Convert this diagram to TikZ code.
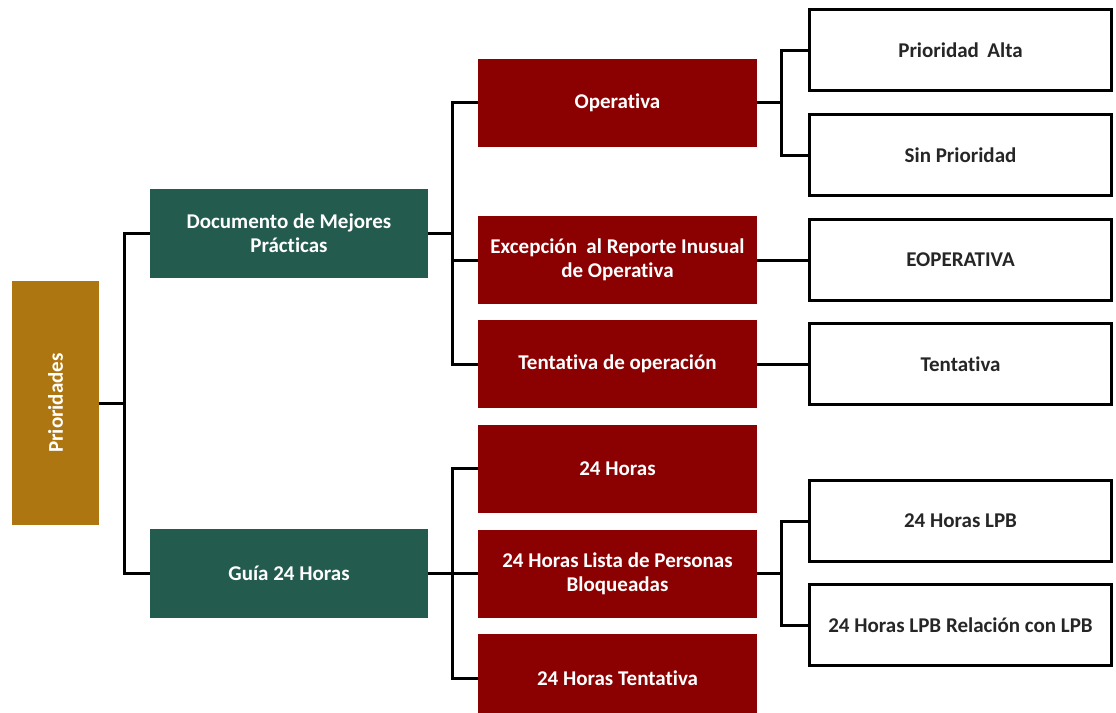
\documentclass[tikz,border=0pt]{standalone}
\usepackage{fontspec}
\setmainfont{Carlito}[Ligatures={NoCommon}]
\usetikzlibrary{backgrounds}
\definecolor{prioGold}{RGB}{174,118,16}
\definecolor{docGreen}{RGB}{35,91,78}
\definecolor{opRed}{RGB}{139,0,0}
\definecolor{txtDark}{RGB}{38,38,38}
\begin{document}
\begin{tikzpicture}[x=1pt,y=-1pt,
  base/.style={inner sep=0pt, align=center, font=\bfseries\fontsize{21}{24}\selectfont},
  goldbox/.style={base, fill=prioGold, text=white, minimum width=87pt, minimum height=244pt},
  greenbox/.style={base, fill=docGreen, text=white, minimum width=278pt, minimum height=89pt},
  redbox/.style={base, fill=opRed, text=white, minimum width=279pt, minimum height=88pt},
  whitebox/.style={base, draw=black, line width=3pt, fill=white, text=txtDark, minimum width=302pt, minimum height=81pt},
  link/.style={draw=black, line width=3pt, line join=miter}
]
\useasboundingbox (0,0) rectangle (1116,712);
\clip (0,0) rectangle (1116,712);

% level 0
\node[goldbox] (prio) at (55.5,403) {\rotatebox{90}{Prioridades}};
% level 1
\node[greenbox] (doc) at (289,233) {Documento de Mejores\\Prácticas};
\node[greenbox] (guia) at (289,573.5) {Guía 24 Horas};
% level 2
\node[redbox] (oper) at (617.5,102.5) {Operativa};
\node[redbox] (exc) at (617.5,260) {Excepción\hspace{0.45em}al Reporte Inusual\\de Operativa};
\node[redbox] (tentop) at (617.5,364) {Tentativa de operación};
\node[redbox] (h24) at (617.5,468.5) {24 Horas};
\node[redbox] (lista) at (617.5,573.5) {24 Horas Lista de Personas\\Bloqueadas};
\node[redbox] (h24t) at (617.5,678) {24 Horas Tentativa};
% level 3
\node[whitebox] (alta) at (960.5,50) {Prioridad\hspace{0.4em}Alta};
\node[whitebox] (sinp) at (960.5,155) {Sin Prioridad};
\node[whitebox] (eop) at (960.5,260) {EOPERATIVA};
\node[whitebox] (tent) at (960.5,364) {Tentativa};
\node[whitebox] (lpb) at (960.5,521) {24 Horas LPB};
\node[whitebox] (rel) at (960.5,625) {24 Horas LPB Relación con LPB};

% junctions
\coordinate (j0) at (124,403);
\coordinate (j1) at (452,233);
\coordinate (j2) at (452,573.5);
\coordinate (j3) at (781.5,102.5);
\coordinate (j4) at (781.5,573.5);

\begin{pgfonlayer}{background}
\fill[white] (0,0) rectangle (1116,712);
\draw[link] (prio.east) -- (j0);
\draw[link] (doc.west) -| (j0);
\draw[link] (guia.west) -| (j0);

\draw[link] (doc.east) -- (j1);
\draw[link] (oper.west) -| (j1);
\draw[link] (exc.west) -| (j1);
\draw[link] (tentop.west) -| (j1);

\draw[link] (guia.east) -- (j2);
\draw[link] (h24.west) -| (j2);
\draw[link] (lista.west) -- (j2);
\draw[link] (h24t.west) -| (j2);

\draw[link] (oper.east) -- (j3);
\draw[link] (alta.west) -| (j3);
\draw[link] (sinp.west) -| (j3);

\draw[link] (exc.east) -- (eop.west);
\draw[link] (tentop.east) -- (tent.west);

\draw[link] (lista.east) -- (j4);
\draw[link] (lpb.west) -| (j4);
\draw[link] (rel.west) -| (j4);
\end{pgfonlayer}
\end{tikzpicture}
\end{document}
